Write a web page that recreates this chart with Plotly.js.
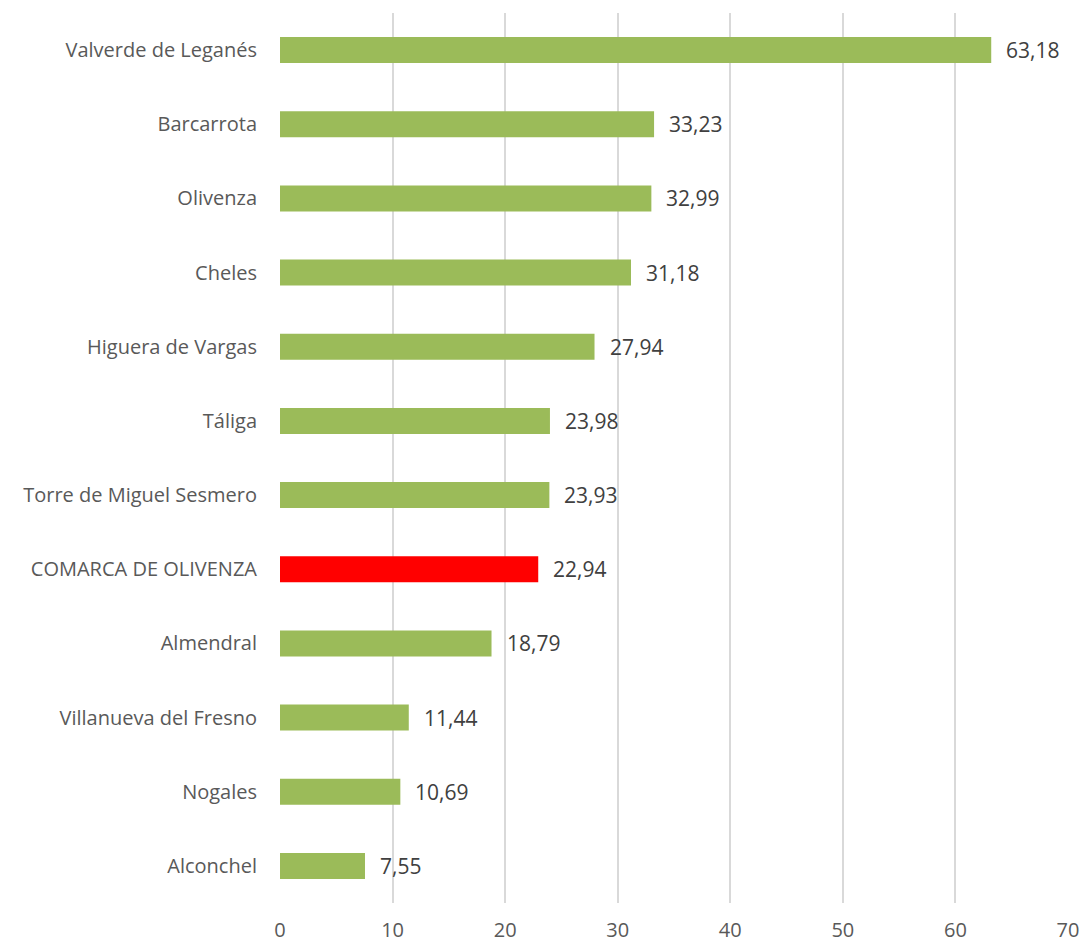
<!DOCTYPE html>
<html>
<head>
<meta charset="utf-8">
<script src="https://cdn.plot.ly/plotly-3.0.1.min.js"></script>
<style>html,body{margin:0;padding:0;background:#fff;}#chart{width:1083px;height:945px;}</style>
</head>
<body>
<div id="chart"></div>
<script>
const categories = ["Valverde de Leganés","Barcarrota","Olivenza","Cheles","Higuera de Vargas","Táliga","Torre de Miguel Sesmero","COMARCA DE OLIVENZA","Almendral","Villanueva del Fresno","Nogales","Alconchel"];
const values = [63.18,33.23,32.99,31.18,27.94,23.98,23.93,22.94,18.79,11.44,10.69,7.55];
const highlight = "COMARCA DE OLIVENZA";
const tickVals = [0,10,20,30,40,50,60,70];

const colors = categories.map(c => c === highlight ? "#FF0000" : "#9BBB59");
const fontFam = "Open Sans, sans-serif";

const trace = {
  type: "bar",
  orientation: "h",
  y: categories,
  x: values,
  marker: {color: colors},
  hoverinfo: "none",
  width: 0.35
};

const annotations = categories.map((c, i) => ({
  x: values[i], y: c, xref: "x", yref: "y",
  text: values[i].toFixed(2).replace(".", ","),
  showarrow: false, xanchor: "left", xshift: 13,
  font: {family: fontFam, size: 21, color: "#404040"}
}));

const layout = {
  width: 1083, height: 945,
  margin: {l: 280, r: 15, t: 13, b: 42},
  paper_bgcolor: "#fff", plot_bgcolor: "#fff",
  showlegend: false,
  separators: ",.",
  xaxis: {
    range: [0, 70], tickvals: tickVals, ticktext: tickVals.map(String),
    showgrid: true, gridcolor: "#D9D9D9", gridwidth: 2,
    zeroline: false, showline: false,
    tickfont: {family: fontFam, size: 20, color: "#595959"},
    ticks: "outside", ticklen: 9, tickcolor: "rgba(0,0,0,0)"
  },
  yaxis: {
    autorange: "reversed", type: "category",
    showgrid: false, zeroline: false, showline: false,
    tickfont: {family: fontFam, size: 20, color: "#595959"},
    ticks: "outside", ticklen: 18, tickcolor: "rgba(0,0,0,0)"
  },
  annotations: annotations
};

Plotly.newPlot("chart", [trace], layout, {staticPlot: true});
</script>
</body>
</html>
